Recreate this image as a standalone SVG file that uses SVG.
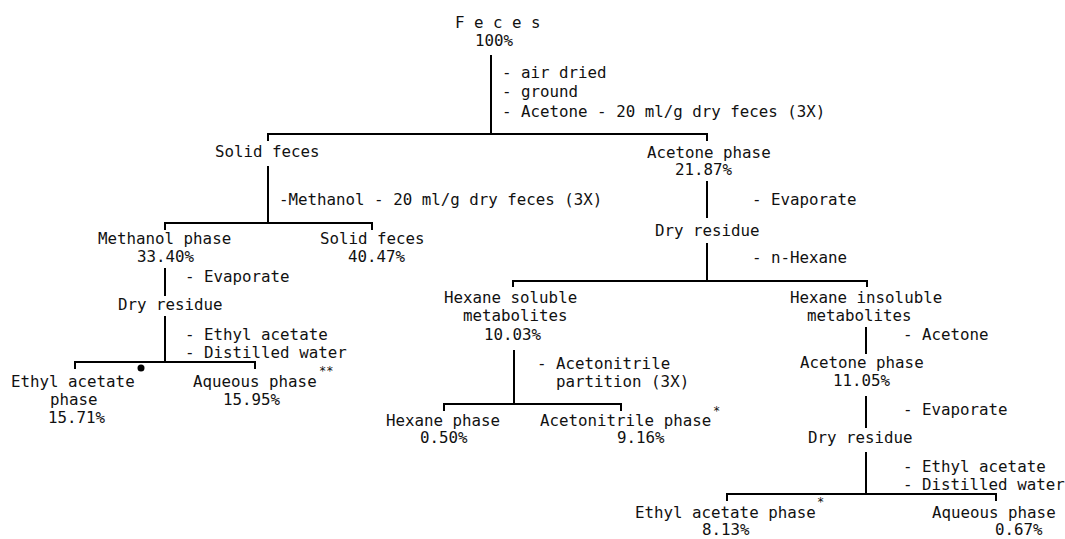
<svg xmlns="http://www.w3.org/2000/svg" width="1065" height="539" viewBox="0 0 1065 539">
<style>
text{font-family:"DejaVu Sans Mono","Liberation Mono",monospace;font-size:15.8px;fill:#111}
.sup{font-size:12px}
.ln{fill:none;stroke:#000;stroke-width:2}
</style>
<rect width="1065" height="539" fill="#fff"/>
<g id="connectors">
<path class="ln" d="M491,55V134"/>
<path class="ln" d="M268,141V134H707V141"/>
<path class="ln" d="M268,166V223"/>
<path class="ln" d="M707,181V218"/>
<path class="ln" d="M707,243V281"/>
<path class="ln" d="M165,230V223H372V230"/>
<path class="ln" d="M165,268V296"/>
<path class="ln" d="M165,316V362"/>
<path class="ln" d="M75,369V362H255V369"/>
<circle cx="141" cy="368" r="3.5" fill="#000"/>
<path class="ln" d="M513,287V281H867V287"/>
<path class="ln" d="M514,350V404"/>
<path class="ln" d="M444,411V404H621V411"/>
<path class="ln" d="M866,327V354"/>
<path class="ln" d="M866,396V428"/>
<path class="ln" d="M866,452V494"/>
<path class="ln" d="M727,501V494H996V501"/>
</g>
<g id="feces"><text x="455" y="28">F e c e s</text><text x="475" y="46">100%</text></g>
<g id="step1"><text x="502" y="78">- air dried</text><text x="502" y="97">- ground</text><text x="502" y="117">- Acetone - 20 ml/g dry feces (3X)</text></g>
<g id="solid-feces-1"><text x="215" y="157">Solid feces</text></g>
<g id="acetone-phase-1"><text x="647" y="158">Acetone phase</text><text x="675" y="175">21.87%</text></g>
<g id="step-methanol"><text x="279" y="205">-Methanol - 20 ml/g dry feces (3X)</text></g>
<g id="step-evap-1"><text x="752" y="205">- Evaporate</text></g>
<g id="dry-residue-1"><text x="655" y="236">Dry residue</text></g>
<g id="step-hexane"><text x="752" y="263">- n-Hexane</text></g>
<g id="methanol-phase"><text x="98" y="244">Methanol phase</text><text x="137" y="262">33.40%</text></g>
<g id="solid-feces-2"><text x="320" y="244">Solid feces</text><text x="348" y="262">40.47%</text></g>
<g id="step-evap-2"><text x="185" y="282">- Evaporate</text></g>
<g id="dry-residue-2"><text x="118" y="310">Dry residue</text></g>
<g id="step-ea-1"><text x="185" y="340">- Ethyl acetate</text><text x="185" y="358">- Distilled water</text></g>
<g id="ethyl-acetate-1"><text x="11" y="387">Ethyl acetate</text><text x="50" y="405">phase</text><text x="48" y="423">15.71%</text></g>
<g id="aqueous-1"><text x="193" y="387">Aqueous phase</text><text class="sup" x="319" y="375">**</text><text x="223" y="405">15.95%</text></g>
<g id="hexane-soluble"><text x="444" y="303">Hexane soluble</text><text x="463" y="321">metabolites</text><text x="484" y="340">10.03%</text></g>
<g id="step-acn"><text x="537" y="369">- Acetonitrile</text><text x="556" y="387">partition (3X)</text></g>
<g id="hexane-phase"><text x="386" y="426">Hexane phase</text><text x="420" y="443">0.50%</text></g>
<g id="acn-phase"><text x="540" y="426">Acetonitrile phase</text><text class="sup" x="713" y="415">*</text><text x="617" y="443">9.16%</text></g>
<g id="hexane-insoluble"><text x="790" y="303">Hexane insoluble</text><text x="807" y="321">metabolites</text></g>
<g id="step-acetone-2"><text x="903" y="340">- Acetone</text></g>
<g id="acetone-phase-2"><text x="800" y="368">Acetone phase</text><text x="833" y="386">11.05%</text></g>
<g id="step-evap-3"><text x="903" y="415">- Evaporate</text></g>
<g id="dry-residue-3"><text x="808" y="443">Dry residue</text></g>
<g id="step-ea-2"><text x="903" y="472">- Ethyl acetate</text><text x="903" y="490">- Distilled water</text></g>
<g id="ethyl-acetate-2"><text x="635" y="518">Ethyl acetate phase</text><text class="sup" x="817" y="506">*</text><text x="702" y="535">8.13%</text></g>
<g id="aqueous-2"><text x="932" y="518">Aqueous phase</text><text x="995" y="535">0.67%</text></g>
</svg>
